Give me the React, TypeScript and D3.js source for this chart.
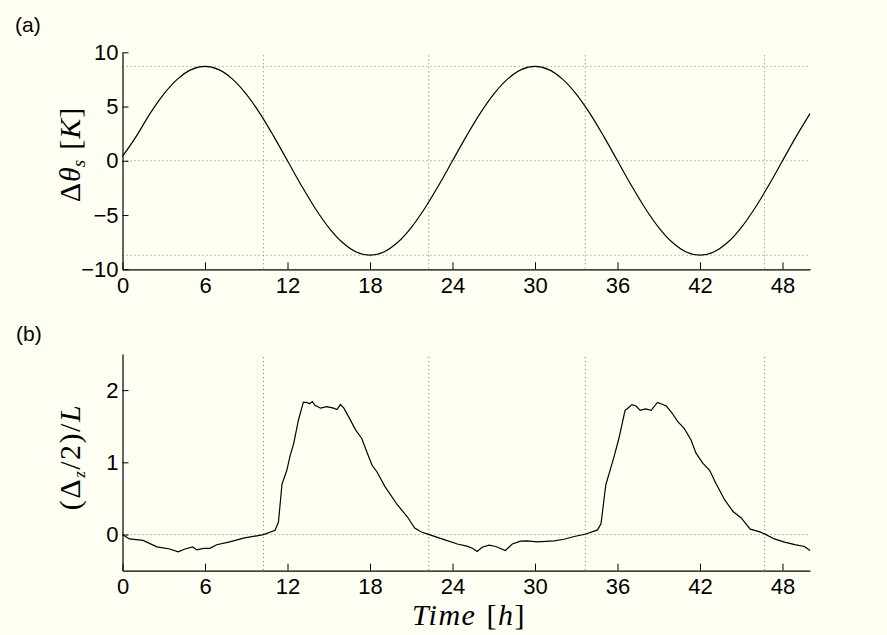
import * as d3 from 'd3';
import React, { useEffect, useRef } from 'react';

// panel (a): surface temperature swing
const hours = [
  0, 1, 2, 3, 4, 5, 6, 7, 8, 9, 10, 11, 12, 13, 14, 15, 16, 17, 18, 19, 20, 21, 22, 23, 24,
  25, 26, 27, 28, 29, 30, 31, 32, 33, 34, 35, 36, 37, 38, 39, 40, 41, 42, 43, 44, 45, 46, 47, 48,
  49, 50,
];
const dThetaS = [
  0.4, 2.25, 4.35, 6.15, 7.53, 8.4, 8.7, 8.4, 7.53, 6.15, 4.35, 2.25, 0, -2.25, -4.35, -6.15,
  -7.53, -8.4, -8.7, -8.4, -7.53, -6.15, -4.35, -2.25, 0, 2.25, 4.35, 6.15, 7.53, 8.4, 8.7, 8.4,
  7.53, 6.15, 4.35, 2.25, 0, -2.25, -4.35, -6.15, -7.53, -8.4, -8.7, -8.4, -7.53, -6.15, -4.35,
  -2.25, 0, 2.25, 4.35,
];

// panel (b): half depth over L
const depthTimes = [
  0, 0.5, 1.5, 2.5, 3.45, 4.05, 4.55, 5.1, 5.4, 5.9, 6.35, 6.85, 7.8, 8.8, 10.25, 11.1, 11.34,
  11.6, 11.95, 12.2, 12.45, 12.8, 13.15, 13.4, 13.6, 13.8, 14.0, 14.4, 14.85, 15.35, 15.6, 15.85,
  16.1, 16.45, 16.95, 17.4, 17.8, 18.15, 18.5, 19.1, 20.0, 20.7, 21.25, 21.7, 22.3, 23.4, 24.35,
  25.05, 25.45, 25.8, 26.15, 26.65, 27.15, 27.85, 28.35, 28.95, 29.45, 30.15, 31.4, 32.1, 32.85,
  33.65, 34.55, 34.8, 35.15, 35.4, 35.75, 36.1, 36.55, 36.75, 37.05, 37.35, 37.65, 38.05, 38.45,
  38.9, 39.3, 39.55, 39.9, 40.4, 40.85, 41.35, 41.7, 42.2, 42.7, 43.15, 43.8, 44.4, 45.0, 45.65,
  46.3, 46.7, 47.4, 48.15, 48.9, 49.6, 50.0,
];
const halfDepth = [
  0.0, -0.06, -0.08, -0.17, -0.2, -0.24, -0.2, -0.17, -0.21, -0.19, -0.19, -0.14, -0.1, -0.05,
  0.0, 0.06, 0.17, 0.7, 0.89, 1.1, 1.26, 1.59, 1.83, 1.83, 1.81, 1.84, 1.79, 1.75, 1.77, 1.75,
  1.73, 1.8, 1.75, 1.63, 1.45, 1.33, 1.13, 0.96, 0.87, 0.66, 0.41, 0.25, 0.09, 0.04, 0.0, -0.07,
  -0.13, -0.16, -0.19, -0.235, -0.175, -0.147, -0.165, -0.22, -0.13, -0.09, -0.087, -0.1, -0.087,
  -0.065, -0.027, 0.005, 0.065, 0.15, 0.69, 0.85, 1.08, 1.33, 1.72, 1.75, 1.8, 1.78, 1.72, 1.74,
  1.72, 1.83, 1.8, 1.78, 1.7, 1.56, 1.47, 1.31, 1.13, 0.99, 0.89, 0.71, 0.48, 0.32, 0.23, 0.075,
  0.04, 0.01, -0.06, -0.105, -0.14, -0.165, -0.22,
];

const timeTicks = [0, 6, 12, 18, 24, 30, 36, 42, 48];
const thetaTicks = [-10, -5, 0, 5, 10];
const depthTicks = [0, 1, 2];
const gridHours = [10.25, 22.27, 33.65, 46.7];
const thetaGridLevels = [8.7, 0, -8.7];
const depthGridLevels = [0];

const W = 887;
const H = 635;
const BG = '#fffff3';
const SANS = "'Liberation Sans', Arial, Helvetica, sans-serif";
const SERIF = "'Liberation Serif', 'Times New Roman', serif";

const App = () => {
  const ref = useRef<SVGSVGElement | null>(null);

  useEffect(() => {
    const svg = d3.select(ref.current);
    svg.selectAll('*').remove();

    svg.append('rect').attr('width', W).attr('height', H).attr('fill', BG);

    const x = d3.scaleLinear().domain([0, 50]).range([122.5, 810]);

    const drawPanel = (
      y: d3.ScaleLinear<number, number>,
      yTicks: number[],
      levels: number[],
      xs: number[],
      ys: number[],
      curve: any
    ) => {
      const g = svg.append('g');
      const [yBot, yTop] = y.range();

      // dotted grid
      g.selectAll('line.hgrid')
        .data(levels)
        .join('line')
        .attr('class', 'hgrid')
        .attr('x1', x(0))
        .attr('x2', x(50))
        .attr('y1', (d) => y(d))
        .attr('y2', (d) => y(d))
        .attr('stroke', '#7a7a7a')
        .attr('stroke-width', 1)
        .attr('stroke-dasharray', '1,3');
      g.selectAll('line.vgrid')
        .data(gridHours)
        .join('line')
        .attr('class', 'vgrid')
        .attr('x1', (d) => x(d))
        .attr('x2', (d) => x(d))
        .attr('y1', yTop + 3)
        .attr('y2', yBot)
        .attr('stroke', '#7a7a7a')
        .attr('stroke-width', 1)
        .attr('stroke-dasharray', '1,3');

      // curve
      const line = d3
        .line<number>()
        .x((d) => x(d))
        .y((_, i) => y(ys[i]))
        .curve(curve);
      g.append('path')
        .attr('d', line(xs))
        .attr('fill', 'none')
        .attr('stroke', '#000')
        .attr('stroke-width', 1.2);

      // axes (ticks point inward)
      const xAxis = g
        .append('g')
        .attr('transform', `translate(0,${yBot})`)
        .call(
          d3
            .axisBottom(x)
            .tickValues(timeTicks)
            .tickSizeInner(-7)
            .tickSizeOuter(0)
            .tickPadding(8)
        );
      xAxis.select('.domain').attr('stroke', '#000').attr('stroke-width', 1.2);
      xAxis.selectAll('.tick line').attr('stroke', '#000');
      xAxis
        .selectAll('.tick text')
        .attr('font-family', SANS)
        .attr('font-size', 22)
        .attr('dy', '0.71em')
        .attr('fill', '#000');

      const yAxis = g
        .append('g')
        .attr('transform', `translate(${x(0)},0)`)
        .call(
          d3
            .axisLeft(y)
            .tickValues(yTicks)
            .tickSizeInner(-6)
            .tickSizeOuter(0)
            .tickPadding(4)
            .tickFormat((d: any) => (d < 0 ? `\u2212${Math.abs(d)}` : `${d}`))
        );
      yAxis.select('.domain').attr('stroke', '#000').attr('stroke-width', 1.2);
      yAxis.selectAll('.tick line').attr('stroke', '#000');
      yAxis
        .selectAll('.tick text')
        .attr('font-family', SANS)
        .attr('font-size', 22)
        .attr('fill', '#000');
    };

    const yTheta = d3.scaleLinear().domain([-10, 10]).range([269.3, 52.3]);
    drawPanel(yTheta, thetaTicks, thetaGridLevels, hours, dThetaS, d3.curveCatmullRom);

    const yDepth = d3.scaleLinear().domain([-0.5, 2.5]).range([570.7, 354]);
    drawPanel(yDepth, depthTicks, depthGridLevels, depthTimes, halfDepth, d3.curveLinear);

    // panel letters
    svg.append('text').attr('x', 15).attr('y', 32).text('(a)')
      .attr('font-family', SANS).attr('font-size', 21);
    svg.append('text').attr('x', 16).attr('y', 341).text('(b)')
      .attr('font-family', SANS).attr('font-size', 21);

    // y label (a): Δθ_s [K]
    const la = svg
      .append('text')
      .attr('transform', 'translate(80,155) rotate(-90)')
      .attr('text-anchor', 'middle')
      .attr('font-family', SERIF)
      .attr('font-size', 30);
    la.append('tspan').text('\u0394');
    la.append('tspan').attr('font-style', 'italic').attr('dx', 1).text('\u03b8');
    la.append('tspan').attr('font-style', 'italic').attr('font-size', 19).attr('dy', 5).text('s');
    la.append('tspan').attr('dy', -5).attr('dx', 10).text('[');
    la.append('tspan').attr('font-style', 'italic').attr('dx', 1).text('K');
    la.append('tspan').attr('dx', 1).text(']');

    // y label (b): (Δz/2)/L
    const lb = svg
      .append('text')
      .attr('transform', 'translate(80,457) rotate(-90)')
      .attr('text-anchor', 'middle')
      .attr('font-family', SERIF)
      .attr('font-size', 30)
      .attr('letter-spacing', 1.5);
    lb.append('tspan').text('(\u0394');
    lb.append('tspan').attr('font-style', 'italic').attr('font-size', 17).attr('dy', 5).text('z');
    lb.append('tspan').attr('dy', -5).text('/2)/');
    lb.append('tspan').attr('font-style', 'italic').text('L');

    // x label: Time [h]
    const lx = svg
      .append('text')
      .attr('x', 469)
      .attr('y', 625)
      .attr('text-anchor', 'middle')
      .attr('font-family', SERIF)
      .attr('font-size', 30)
      .attr('letter-spacing', 1.5);
    lx.append('tspan').attr('font-style', 'italic').text('Time');
    lx.append('tspan').attr('dx', 10).text('[');
    lx.append('tspan').attr('font-style', 'italic').text('h');
    lx.append('tspan').text(']');
  }, []);

  return (
    <svg
      ref={ref}
      width={W}
      height={H}
      style={{ position: 'absolute', left: 0, top: 0, display: 'block' }}
    />
  );
};

export default App;
